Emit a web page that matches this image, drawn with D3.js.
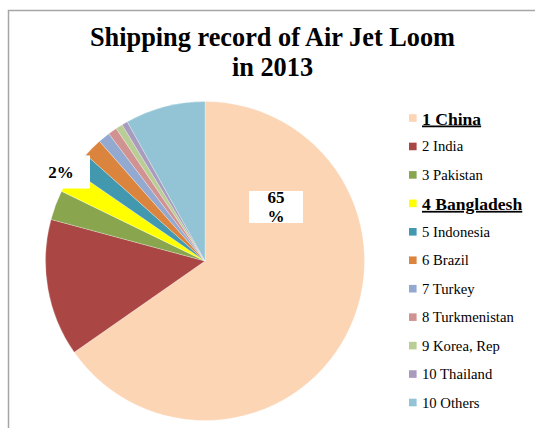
<!DOCTYPE html>
<html>
<head>
<meta charset="utf-8">
<script src="https://cdn.jsdelivr.net/npm/d3@7/dist/d3.min.js"></script>
<style>
  html, body { margin: 0; padding: 0; background: #fff; }
  svg { display: block; }
</style>
</head>
<body>
<script>
// Share of air jet loom shipments by destination, 2013 (percent)
const categories = ["1 China", "2 India", "3 Pakistan", "4 Bangladesh", "5 Indonesia",
  "6 Brazil", "7 Turkey", "8 Turkmenistan", "9 Korea, Rep", "10 Thailand", "10 Others"];
const shares = [65.3, 13.9, 3.0, 2.4, 2.0, 1.9, 1.2, 0.9, 0.7, 0.6, 8.1];
const colors = ["#FCD5B5", "#AA4643", "#89A54E", "#FFFF00", "#4198AF",
  "#DB843D", "#93A9CF", "#D19392", "#B9CD96", "#A99BBD", "#92C4D5"];
const highlighted = ["1 China", "4 Bangladesh"];
const labelled = ["1 China", "4 Bangladesh"];

const W = 535, H = 428;
const SERIF = "'Liberation Serif', 'Times New Roman', Times, serif";
const svg = d3.select("body").append("svg").attr("width", W).attr("height", H)
  .style("font-family", SERIF);

// chart frame
svg.append("path")
  .attr("d", `M8.5,${H + 2} V10.5 H${W + 2}`)
  .attr("fill", "none").attr("stroke", "#a6a6a6").attr("stroke-width", 1.5);

// title
const title = svg.append("text").attr("text-anchor", "middle")
  .style("font-family", SERIF)
  .attr("font-size", 26.3).attr("font-weight", "bold");
title.append("tspan").attr("x", 272.5).attr("y", 46).text("Shipping record of Air Jet Loom");
title.append("tspan").attr("x", 272.5).attr("y", 76).text("in 2013");

// pie
const cx = 205, cy = 261, R = 159.5;
const data = categories.map((c, i) => ({ name: c, value: shares[i], color: colors[i] }));
const pie = d3.pie().value(d => d.value).sort(null).startAngle(0).endAngle(2 * Math.PI);
const arc = d3.arc().innerRadius(0).outerRadius(R);
const arcs = pie(data);

const g = svg.append("g").attr("transform", `translate(${cx},${cy})`);
g.selectAll("path").data(arcs).join("path")
  .attr("d", arc)
  .attr("fill", d => d.data.color)
  .attr("stroke", "#ffffff").attr("stroke-width", 0.4).attr("stroke-opacity", 0.7);

// data labels (boxed), positioned relative to the pie centre
const labelLayout = {
  "1 China": { x: 71, y: -54, w: 54, h: 32, wrap: true },
  "4 Bangladesh": { x: -140, y: -89, w: 50, h: 33, wrap: false }
};
const total = d3.sum(shares);
const fmt = v => Math.round(v / total * 100);
arcs.filter(a => labelled.includes(a.data.name)).forEach(a => {
  const L = labelLayout[a.data.name];
  const lg = g.append("g").attr("transform", `translate(${L.x},${L.y})`);
  lg.append("rect").attr("x", -L.w / 2).attr("y", -L.h / 2)
    .attr("width", L.w).attr("height", L.h).attr("fill", "#fff");
  const t = lg.append("text").attr("text-anchor", "middle")
    .style("font-family", SERIF)
    .attr("font-size", 17).attr("font-weight", "bold");
  if (L.wrap) {
    t.append("tspan").attr("x", 0).attr("y", -4).text(fmt(a.data.value));
    t.append("tspan").attr("x", 0).attr("y", 15).text("%");
  } else {
    t.attr("x", -4).attr("y", 6).text(fmt(a.data.value) + "%");
  }
});

// legend
const legendX = 409, legendY0 = 118, legendStep = 28.45;
const lgd = svg.append("g");
const rows = lgd.selectAll("g").data(data).join("g")
  .attr("transform", (d, i) => `translate(${legendX},${legendY0 + i * legendStep})`);
rows.append("rect").attr("x", 0).attr("y", -3.8).attr("width", 7.6).attr("height", 7.6)
  .attr("fill", d => d.color);
rows.append("text")
  .style("font-family", SERIF)
  .attr("x", 13).attr("y", d => highlighted.includes(d.name) ? 6.5 : 5)
  .attr("font-size", d => highlighted.includes(d.name) ? 17.6 : 14.7)
  .attr("font-weight", d => highlighted.includes(d.name) ? "bold" : "normal")
  .attr("text-decoration", d => highlighted.includes(d.name) ? "underline" : "none")
  .text(d => d.name);
</script>
</body>
</html>
